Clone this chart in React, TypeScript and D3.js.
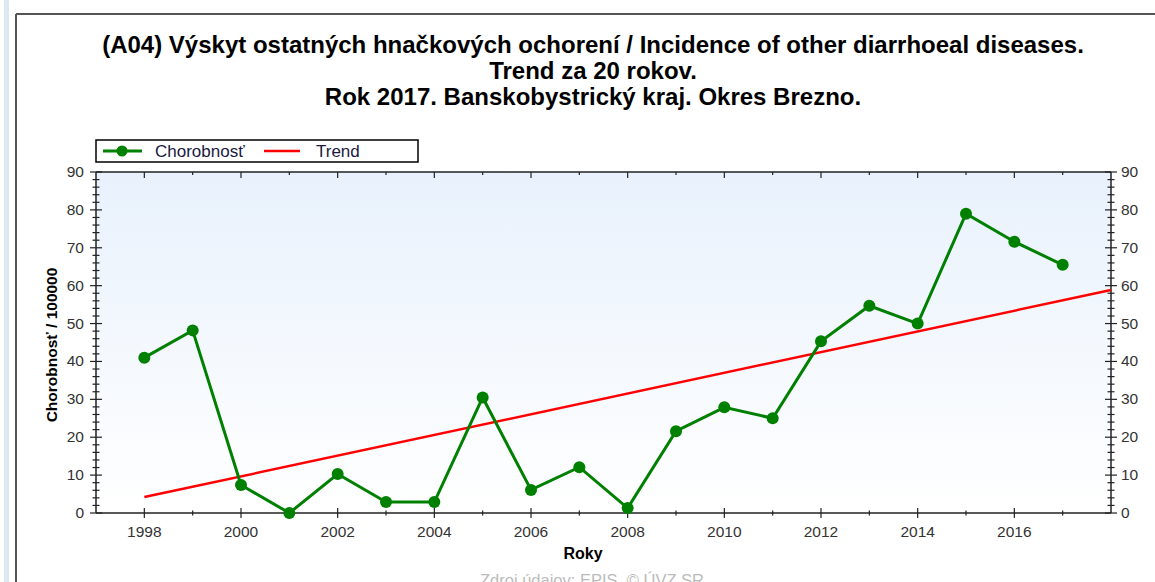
import React from "react";
import * as d3 from "d3";

const titleLines = [
  "(A04) Výskyt ostatných hnačkových ochorení / Incidence of other diarrhoeal diseases.",
  "Trend za 20 rokov.",
  "Rok 2017. Banskobystrický kraj. Okres Brezno.",
];
const years = [1998, 1999, 2000, 2001, 2002, 2003, 2004, 2005, 2006, 2007, 2008, 2009, 2010, 2011, 2012, 2013, 2014, 2015, 2016, 2017];
const values = [41, 48.2, 7.4, 0, 10.3, 2.9, 2.9, 30.5, 6.1, 12.1, 1.3, 21.6, 27.9, 25, 45.3, 54.7, 50, 79, 71.6, 65.5];
const yMajorTicks = [0, 10, 20, 30, 40, 50, 60, 70, 80, 90];
const xLabelYears = [1998, 2000, 2002, 2004, 2006, 2008, 2010, 2012, 2014, 2016];
const seriesName = "Chorobnosť";
const trendName = "Trend";
const yTitle = "Chorobnosť / 100000";
const xTitle = "Roky";
const source = "Zdroj údajov: EPIS, © ÚVZ SR";

const W = 1155, H = 582;
const L = 96, R = 1111, T = 172, B = 513;
const FONT = "'Liberation Sans', Arial, sans-serif";

export default function App() {
  const x = d3.scaleLinear().domain([1997, 2018]).range([L, R]);
  const y = d3.scaleLinear().domain([0, 90]).range([B, T]);

  // linear regression trend
  const mx = d3.mean(years)!;
  const my = d3.mean(values)!;
  let sxy = 0, sxx = 0;
  years.forEach((yr, i) => { sxy += (yr - mx) * (values[i] - my); sxx += (yr - mx) ** 2; });
  const slope = sxy / sxx;
  const icpt = my - slope * mx;
  const trendPts: [number, number][] = [[1998, icpt + slope * 1998], [2018, icpt + slope * 2018]];

  const line = d3.line<[number, number]>().x(d => x(d[0])).y(d => y(d[1]));
  const dataPts: [number, number][] = years.map((yr, i) => [yr, values[i]]);

  const minorY = d3.range(0, 91, 2);
  const allYears = d3.range(1998, 2018);

  return (
    <svg width={W} height={H} style={{ position: "absolute", left: 0, top: 0, display: "block" }} fontFamily={FONT}>
      <defs>
        <linearGradient id="bg" x1="0" y1="0" x2="0" y2="1">
          <stop offset="0" stopColor="#e8f1fc" />
          <stop offset="1" stopColor="#ffffff" />
        </linearGradient>
      </defs>
      <rect x={0} y={0} width={W} height={H} fill="#ffffff" />
      <rect x={4} y={0} width={5} height={H} fill="#dde8f0" />
      <line x1={16} y1={14} x2={16} y2={H} stroke="#555" strokeWidth={2} />
      <line x1={16} y1={14} x2={W} y2={14} stroke="#555" strokeWidth={2} />

      {titleLines.map((t, i) => (
        <text key={i} x={593} y={53 + i * 26} textAnchor="middle" fontSize={24} fontWeight="bold" fill="#000">{t}</text>
      ))}

      <rect x={L} y={T} width={R - L} height={B - T} fill="url(#bg)" />

      {/* legend */}
      <rect x={96} y={140} width={322} height={22} fill="#fff" stroke="#000" strokeWidth={1.5} />
      <line x1={103} y1={151} x2={142} y2={151} stroke="#008000" strokeWidth={3} />
      <circle cx={122} cy={151} r={5.5} fill="#008000" />
      <text x={155} y={157} fontSize={17} fill="#1a1a40">{seriesName}</text>
      <line x1={264} y1={151} x2={300} y2={151} stroke="#ff0000" strokeWidth={2.5} />
      <text x={316} y={157} fontSize={17} fill="#1a1a40">{trendName}</text>

      {/* axes lines */}
      <line x1={L} y1={T} x2={L} y2={B} stroke="#222" strokeWidth={1.5} />
      <line x1={R} y1={T} x2={R} y2={B} stroke="#222" strokeWidth={1.5} />
      <line x1={L} y1={B} x2={R} y2={B} stroke="#222" strokeWidth={1.5} />
      <line x1={L} y1={T} x2={R} y2={T} stroke="#222" strokeWidth={1.5} />

      {/* y ticks */}
      {minorY.map(v => {
        const major = v % 10 === 0;
        const h = major ? 6 : 3.5;
        return (
          <g key={v}>
            <line x1={L - h} x2={L + h} y1={y(v)} y2={y(v)} stroke="#222" strokeWidth={1.2} />
            <line x1={R - h} x2={R + h} y1={y(v)} y2={y(v)} stroke="#222" strokeWidth={1.2} />
          </g>
        );
      })}
      {yMajorTicks.map(v => (
        <g key={v}>
          <text x={84} y={y(v) + 5} textAnchor="end" fontSize={15.5} fill="#333">{v}</text>
          <text x={1121} y={y(v) + 5} textAnchor="start" fontSize={15.5} fill="#333">{v}</text>
        </g>
      ))}

      {/* x ticks */}
      {allYears.map(yr => {
        const major = yr % 2 === 0;
        const h = major ? 5 : 2.5;
        return (
          <g key={yr}>
            <line x1={x(yr)} x2={x(yr)} y1={B - h} y2={B + h} stroke="#222" strokeWidth={1.2} />
            <line x1={x(yr)} x2={x(yr)} y1={T} y2={T + (major ? 6 : 3)} stroke="#222" strokeWidth={1.2} />
          </g>
        );
      })}
      {xLabelYears.map(yr => (
        <text key={yr} x={x(yr)} y={537} textAnchor="middle" fontSize={15.5} fill="#333">{yr}</text>
      ))}

      {/* trend */}
      <path d={line(trendPts)!} fill="none" stroke="#ff0000" strokeWidth={2.5} />
      {/* series */}
      <path d={line(dataPts)!} fill="none" stroke="#008000" strokeWidth={3} />
      {dataPts.map((d, i) => (
        <circle key={i} cx={x(d[0])} cy={y(d[1])} r={6} fill="#008000" />
      ))}

      <text x={583} y={559} textAnchor="middle" fontSize={16} fontWeight="bold" fill="#000">{xTitle}</text>
      <text transform={`translate(57,345) rotate(-90)`} textAnchor="middle" fontSize={15.5} fontWeight="bold" fill="#000">{yTitle}</text>
      <text x={592} y={586} textAnchor="middle" fontSize={16.5} fill="#bbbbbb">{source}</text>
    </svg>
  );
}
